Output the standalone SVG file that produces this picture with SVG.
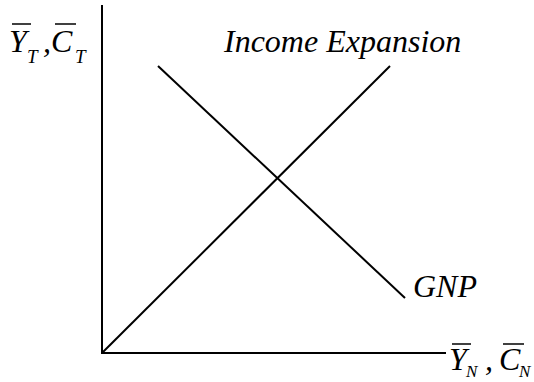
<svg xmlns="http://www.w3.org/2000/svg" width="534" height="382" viewBox="0 0 534 382">
<style>
.ln{stroke:#000;stroke-width:2;fill:none}
.ol{stroke:#000;stroke-width:1.5}
.t{font-family:'Liberation Serif','DejaVu Serif',serif;font-style:italic;fill:#000}
.big{font-size:32px}
.sub{font-size:19px}
.subs{font-size:17px}
</style>
<rect width="534" height="382" fill="#fff"/>
<g id="axes">
<line class="ln" x1="102" y1="5" x2="102" y2="354"/>
<line class="ln" x1="101" y1="353" x2="446" y2="353"/>
</g>
<g id="connectors">
<line class="ln" x1="102" y1="353" x2="390" y2="66"/>
<line class="ln" x1="158" y1="66" x2="405" y2="298"/>
</g>
<g id="label-income">
<text class="t big" x="224" y="52">Income Expansion</text>
</g>
<g id="label-gnp">
<text class="t big" x="413" y="297">GNP</text>
</g>
<g id="label-y-axis">
<line class="ol" x1="12" y1="24" x2="31" y2="24"/>
<text class="t big" x="9" y="52">Y</text>
<text class="t sub" x="27" y="63">T</text>
<text class="t big" x="43" y="52">,</text>
<line class="ol" x1="55" y1="24" x2="76" y2="24"/>
<text class="t big" x="51" y="52">C</text>
<text class="t sub" x="75" y="63">T</text>
</g>
<g id="label-x-axis">
<line class="ol" x1="452" y1="344" x2="471" y2="344"/>
<text class="t big" x="449" y="370">Y</text>
<text class="t subs" x="466" y="377">N</text>
<text class="t big" x="485" y="370">,</text>
<line class="ol" x1="503" y1="344" x2="524" y2="344"/>
<text class="t big" x="499" y="370">C</text>
<text class="t subs" x="519" y="377">N</text>
</g>
</svg>
